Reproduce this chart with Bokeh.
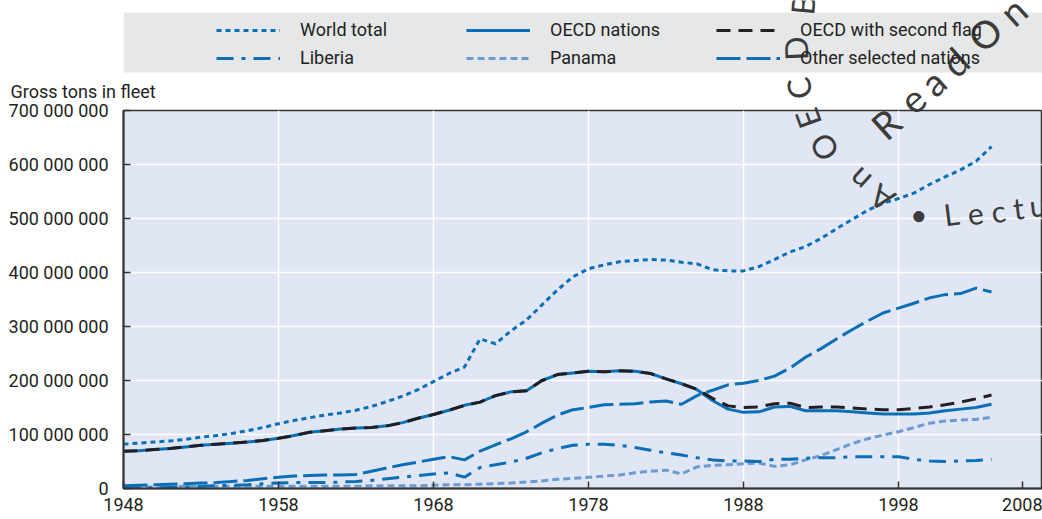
import math
from bokeh.plotting import figure
from bokeh.layouts import column
from bokeh.models import (Range1d, FixedTicker, Legend, LegendItem, Label,
                          BoxAnnotation)
from bokeh.embed import file_html
from bokeh.resources import INLINE

# ---------------- data (gross tons, millions) ----------------
years = list(range(1948, 2005))

world_total = [82, 84, 86, 88, 91, 95, 98, 102, 107, 113,
               120, 126, 131, 136, 140, 145, 152, 161, 171, 183,
               198, 213, 225, 277, 268, 292, 312, 340, 368, 392,
               407, 414, 420, 422, 424, 423, 419, 416, 405, 403,
               403, 411, 424, 438, 448, 463, 481, 498, 515, 528,
               537, 547, 563, 577, 590, 606, 633]

oecd_nations = [69, 70, 72, 74, 77, 80, 82, 84, 86, 89,
                93, 98, 104, 107, 110, 112, 113, 116, 122, 130,
                137, 145, 154, 160, 172, 179, 181, 200, 211, 214,
                217, 216, 218, 217, 213, 203, 194, 183, 163, 147,
                141, 142, 151, 152, 144, 144, 144, 142, 140, 138,
                138, 138, 140, 144, 147, 150, 156]

oecd_second_flag = [69, 70, 72, 74, 77, 80, 82, 84, 86, 89,
                    93, 98, 104, 107, 110, 112, 113, 116, 122, 130,
                    137, 145, 154, 160, 172, 179, 181, 200, 211, 214,
                    217, 216, 218, 217, 213, 203, 194, 184, 167, 153,
                    150, 151, 157, 158, 150, 151, 151, 149, 147, 146,
                    146, 148, 151, 155, 160, 166, 173]

other_selected = [5, 6, 7, 8, 9, 10, 11, 13, 15, 18,
                  21, 23, 24, 25, 25, 26, 32, 38, 44, 49,
                  54, 59, 53, 69, 81, 92, 105, 121, 136, 146,
                  150, 155, 156, 157, 160, 162, 156, 172, 182, 192,
                  195, 200, 208, 223, 243, 259, 277, 294, 310, 325,
                  334, 343, 353, 359, 361, 371, 364]

liberia = [0, 1, 1, 2, 3, 4, 5, 6, 7, 9,
           10, 11, 11, 11, 12, 13, 15, 18, 21, 24,
           27, 29, 21, 39, 44, 49, 56, 66, 74, 80,
           82, 82, 80, 76, 71, 66, 62, 57, 53, 51,
           51, 50, 54, 54, 56, 57, 57, 59, 59, 59,
           59, 54, 51, 50, 51, 52, 54]

panama = [3, 3, 3, 3, 4, 4, 4, 4, 4, 4,
          4, 4, 4, 4, 4, 4, 5, 5, 5, 5,
          6, 7, 7, 8, 9, 10, 12, 14, 17, 19,
          21, 23, 25, 29, 32, 34, 27, 40, 43, 44,
          46, 47, 41, 44, 53, 61, 72, 83, 92, 99,
          105, 113, 121, 125, 127, 128, 132]

series_labels = ["World total", "OECD nations", "OECD with second flag",
                 "Liberia", "Panama", "Other selected nations"]

grid_years = [1948, 1958, 1968, 1978, 1988, 1998]
x_ticks = [1948, 1958, 1968, 1978, 1988, 1998, 2006]
x_tick_labels = ["1948", "1958", "1968", "1978", "1988", "1998", "2008"]
y_ticks = [0, 100e6, 200e6, 300e6, 400e6, 500e6, 600e6, 700e6]
y_tick_labels = ["0", "100 000 000", "200 000 000", "300 000 000",
                 "400 000 000", "500 000 000", "600 000 000", "700 000 000"]
y_title = "Gross tons in fleet"

M = 1e6
def scale(vals):
    return [v * M for v in vals]

# ---------------- styling ----------------
BLUE = "#0b6fb8"
LIGHT = "#6c9ad2"
BLACK = "#231f20"
TXT = "#231f20"
FONT = "Roboto"
FS = "18px"
WM_FONT = "Lato"
WM_COLOR = "#3c3c3c"

styles = {
    "World total": dict(line_color=BLUE, line_width=3, line_dash="5 4"),
    "OECD nations": dict(line_color=BLUE, line_width=3),
    "OECD with second flag": dict(line_color=BLACK, line_width=3, line_dash="14 8"),
    "Liberia": dict(line_color=BLUE, line_width=3, line_dash="17 8 4 8"),
    "Panama": dict(line_color=LIGHT, line_width=3, line_dash="7 4"),
    "Other selected nations": dict(line_color=BLUE, line_width=3, line_dash="24 6"),
}

# page geometry (page pixels, origin top-left of the page)
W, H = 1042, 519
FL, FT, FB = 123, 110, 488      # main frame left / top / bottom
PX_PER_YEAR = 15.5
OVER = 48                       # main figure overlaps head strip by this much

# watermark characters: (char, page x, page y, angle deg, size px)
wm = [
    ("A", 881, 198, 145, 32), ("n", 858, 180, 138, 32), ("O", 823, 147, 122, 32),
    ("E", 807, 118, 110, 32), ("C", 798, 88, 100, 32), ("D", 795, 48, 92, 32),
    ("B", 802, 4, 85, 32),
    ("R", 885, 123, 42, 38), ("e", 912, 99, 42, 38), ("a", 932, 81, 42, 38),
    ("d", 954, 61, 42, 38), ("O", 984, 33, 42, 38), ("n", 1012, 10, 42, 38),
    ("\u2022", 918, 213, 7, 30), ("L", 951, 213, 7, 30), ("e", 975, 213, 7, 30),
    ("c", 998, 210, 7, 30), ("t", 1018, 207, 7, 30), ("u", 1037, 204, 7, 30),
]

# ---------------- head strip (legend + top of watermark) ----------------
head = figure(width=W, height=FT, output_backend="svg", toolbar_location=None,
              x_range=Range1d(FL, W), y_range=Range1d(FT, 0),
              x_axis_location=None, y_axis_location=None,
              min_border_left=FL, min_border_right=0,
              min_border_top=0, min_border_bottom=0)
head.grid.visible = False
head.outline_line_color = None
head.background_fill_color = "white"
head.border_fill_color = "white"

head.add_layout(BoxAnnotation(left=FL, right=W, top=12, bottom=72,
                              fill_color="#e6e7e8", fill_alpha=1.0, line_color=None))

dummy = {}
for lab in series_labels:
    dummy[lab] = head.line([0, 1], [-50, -50], **styles[lab])

legend = Legend(items=[LegendItem(label=l, renderers=[dummy[l]]) for l in series_labels],
                location=(216 - FL, FT - 68), orientation="horizontal", ncols=3,
                background_fill_alpha=0, border_line_color=None,
                padding=0, margin=0, spacing=7,
                glyph_width=64, glyph_height=20, label_height=20,
                label_width=159, label_standoff=20,
                label_text_font=FONT, label_text_font_size=FS,
                label_text_color=TXT, label_text_baseline="middle")
head.add_layout(legend, "center")

for ch, px, py, ang, fs in wm:
    if py - fs < FT:
        head.add_layout(Label(x=px, y=py, text=ch, angle=math.radians(ang),
                              text_font=WM_FONT, text_font_size=f"{fs}px",
                              text_color=WM_COLOR, text_align="center",
                              text_baseline="middle"))

# ---------------- main chart ----------------
main_top = FT - OVER
main_h = H - main_top
p = figure(width=W, height=main_h, output_backend="svg", toolbar_location=None,
           x_range=Range1d(1948, 1948 + (W - FL) / PX_PER_YEAR),
           y_range=Range1d(0, 700e6),
           min_border_left=FL, min_border_right=0,
           min_border_top=OVER, min_border_bottom=H - FB)
p.margin = (-OVER, 0, 0, 0)

p.title.text = y_title
p.title.align = "left"
p.title.offset = 10 - FL
p.title.text_font = FONT
p.title.text_font_size = FS
p.title.text_font_style = "normal"
p.title.text_color = TXT
p.title.standoff = 18

p.background_fill_color = "#e0e6f3"
p.border_fill_alpha = 0
p.outline_line_color = "#333333"
p.outline_line_width = 1.5

for ax in (p.xaxis[0], p.yaxis[0]):
    ax.axis_line_color = "#333333"
    ax.axis_line_width = 2
    ax.major_tick_line_color = "#333333"
    ax.major_tick_line_width = 1.5
    ax.major_tick_in = 7
    ax.major_tick_out = 0
    ax.minor_tick_line_color = None
    ax.major_label_text_font = FONT
    ax.major_label_text_font_size = FS
    ax.major_label_text_color = TXT

p.xaxis.ticker = FixedTicker(ticks=x_ticks)
p.xaxis.major_label_overrides = {t: l for t, l in zip(x_ticks, x_tick_labels)}
p.xaxis.major_label_standoff = 9
p.yaxis.ticker = FixedTicker(ticks=y_ticks)
p.yaxis.major_label_overrides = {t: l for t, l in zip(y_ticks, y_tick_labels)}
p.yaxis.major_label_standoff = 15

p.xgrid.ticker = FixedTicker(ticks=grid_years)
p.ygrid.ticker = FixedTicker(ticks=y_ticks)
for g in (p.xgrid[0], p.ygrid[0]):
    g.grid_line_color = "white"
    g.grid_line_width = 1.5

series = {
    "Panama": panama,
    "Liberia": liberia,
    "Other selected nations": other_selected,
    "World total": world_total,
    "OECD nations": oecd_nations,
    "OECD with second flag": oecd_second_flag,
}
for lab, vals in series.items():
    p.line(years, scale(vals), **styles[lab])

for ch, px, py, ang, fs in wm:
    if py + fs > FT:
        p.add_layout(Label(x=px - FL, y=FB - py, x_units="screen", y_units="screen",
                           text=ch, angle=math.radians(ang),
                           text_font=WM_FONT, text_font_size=f"{fs}px",
                           text_color=WM_COLOR, text_align="center",
                           text_baseline="middle"))

layout = column(head, p, spacing=0)
open("out.html", "w").write(file_html(layout, INLINE))
